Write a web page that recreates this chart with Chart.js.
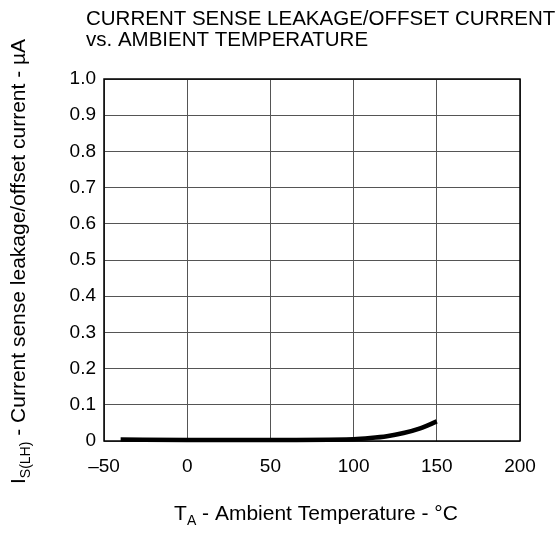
<!DOCTYPE html>
<html>
<head>
<meta charset="utf-8">
<script src="https://cdn.jsdelivr.net/npm/chart.js@4.4.1/dist/chart.umd.min.js"></script>
<style>
  html, body { margin: 0; padding: 0; background: #fff; }
  #wrap { width: 560px; height: 533px; position: relative; }
</style>
</head>
<body>
<div id="wrap"><canvas id="chart" width="560" height="533"></canvas></div>
<script>
// --- data ---
const tempC = [-40, 0, 50, 100, 110, 120, 130, 140, 150];
const leakUA = [0.004, 0.003, 0.003, 0.005, 0.008, 0.013, 0.022, 0.035, 0.054];

const xTicks = [-50, 0, 50, 100, 150, 200];
const yTicks = [0, 0.1, 0.2, 0.3, 0.4, 0.5, 0.6, 0.7, 0.8, 0.9, 1.0];

const titleLines = ['CURRENT SENSE LEAKAGE/OFFSET CURRENT', 'vs. AMBIENT TEMPERATURE'];

const FONT = '"Liberation Sans", Arial, sans-serif';

// draws title, axis titles (with subscripts) and the frame
const textPlugin = {
  id: 'texts',
  afterDraw(chart) {
    const ctx = chart.ctx;
    const a = chart.chartArea;
    ctx.save();
    ctx.fillStyle = '#000';
    ctx.textBaseline = 'alphabetic';
    ctx.textAlign = 'left';

    // title
    ctx.font = '20.5px ' + FONT;
    ctx.fillText(titleLines[0], 86, 25);
    ctx.fillText(titleLines[1], 86, 46);

    // frame
    ctx.strokeStyle = '#000';
    ctx.lineWidth = 1.5;
    ctx.strokeRect(a.left, a.top, a.right - a.left, a.bottom - a.top);

    // x axis title: T_A - Ambient Temperature - °C
    const big = '21px ' + FONT, small = '14px ' + FONT;
    const xParts = [['T', big, 0], ['A', small, 5], [' - Ambient Temperature - °C', big, 0]];
    let w = 0;
    xParts.forEach(p => { ctx.font = p[1]; w += ctx.measureText(p[0]).width; });
    let x = 316 - w / 2;
    xParts.forEach(p => {
      ctx.font = p[1];
      ctx.fillText(p[0], x, 520 + p[2]);
      x += ctx.measureText(p[0]).width;
    });

    // y axis title, rotated
    const yParts = [['I', big, 0], ['S(LH)', small, 5], [' - Current sense leakage/offset current - µA', big, 0]];
    ctx.translate(25, 484);
    ctx.rotate(-Math.PI / 2);
    let y = 0;
    yParts.forEach(p => {
      ctx.font = p[1];
      ctx.fillText(p[0], y, p[2]);
      y += ctx.measureText(p[0]).width;
    });
    ctx.restore();
  }
};

new Chart(document.getElementById('chart'), {
  type: 'line',
  data: {
    datasets: [{
      data: tempC.map((t, i) => ({ x: t, y: leakUA[i] })),
      borderColor: '#000',
      borderWidth: 4.5,
      pointRadius: 0,
      cubicInterpolationMode: 'monotone',
      clip: 4,
      fill: false
    }]
  },
  options: {
    responsive: false,
    animation: false,
    layout: { padding: { left: 0, right: 40, top: 79, bottom: 0 } },
    plugins: { legend: { display: false }, tooltip: { enabled: false } },
    scales: {
      x: {
        type: 'linear',
        min: -50, max: 200,
        afterBuildTicks: s => { s.ticks = xTicks.map(v => ({ value: v })); },
        afterFit: s => { s.height = 92; },
        grid: { color: '#555', lineWidth: 1, drawTicks: false },
        border: { display: false },
        ticks: {
          padding: 14,
          color: '#000',
          font: { family: FONT, size: 19 },
          maxRotation: 0,
          callback: v => v < 0 ? '\u2013' + Math.abs(v) : String(v)
        }
      },
      y: {
        min: 0, max: 1,
        afterBuildTicks: s => { s.ticks = yTicks.map(v => ({ value: v })); },
        afterFit: s => { s.width = 104; },
        grid: { color: '#555', lineWidth: 1, drawTicks: false },
        border: { display: false },
        ticks: {
          padding: 8,
          color: '#000',
          font: { family: FONT, size: 19 },
          callback: v => v === 0 ? '0' : v.toFixed(1)
        }
      }
    }
  },
  plugins: [textPlugin]
});
</script>
</body>
</html>
